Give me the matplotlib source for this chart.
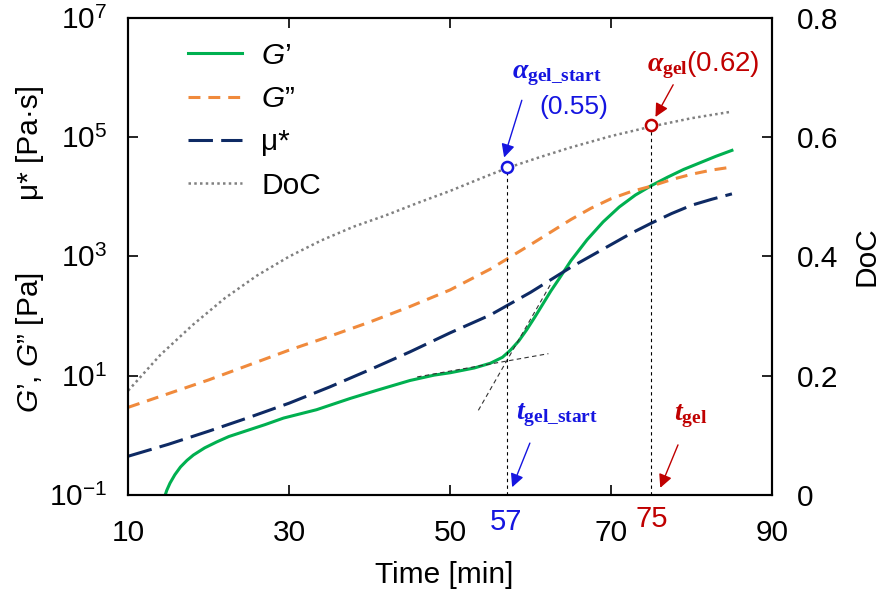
import numpy as np
import matplotlib
matplotlib.use('Agg')
import matplotlib.pyplot as plt

plt.rcParams['font.family'] = ['Liberation Sans', 'DejaVu Sans']
plt.rcParams['mathtext.fontset'] = 'custom'
plt.rcParams['mathtext.rm'] = 'Liberation Sans'
plt.rcParams['mathtext.sf'] = 'Liberation Sans:italic'
plt.rcParams['mathtext.it'] = 'Liberation Serif:italic:bold'
plt.rcParams['mathtext.bf'] = 'Liberation Serif:bold'

# rheology curves, log10 of modulus / viscosity
time_mod = [10, 15, 20, 25, 30, 35, 40, 45, 50, 55, 60, 65, 67.5, 70, 72.5, 75, 77.5, 80,
            82.5, 85]
g2_log = [0.47, 0.70, 0.93, 1.18, 1.43, 1.66, 1.90, 2.16, 2.44, 2.79, 3.20, 3.62, 3.81, 3.97,
          4.09, 4.18, 4.29, 4.38, 4.45, 4.50]
mu_log = [-0.35, -0.15, 0.07, 0.30, 0.54, 0.81, 1.10, 1.40, 1.72, 2.02, 2.40, 2.82, 3.01, 3.20,
          3.39, 3.56, 3.72, 3.86, 3.96, 4.05]

time_g1 = [14.6, 14.8, 15.2, 15.8, 16.5, 17.3, 18.1, 19.5, 21, 22.5, 24.3, 27, 29.3, 33.4,
           37.6, 41, 45, 48, 50, 53, 55, 56.5, 57.5, 58.5, 59.5, 60.5, 61.5, 62.5, 63.5, 65,
           67, 69, 71, 73, 75, 77, 79, 81, 83, 85]
g1_log = [-1.0, -0.92, -0.80, -0.66, -0.53, -0.42, -0.33, -0.21, -0.11, -0.02, 0.06, 0.18,
          0.29, 0.43, 0.62, 0.76, 0.92, 1.01, 1.05, 1.13, 1.21, 1.31, 1.43, 1.58, 1.77, 1.98,
          2.20, 2.42, 2.62, 2.93, 3.28, 3.58, 3.83, 4.03, 4.19, 4.33, 4.46, 4.57, 4.68, 4.78]

# degree of cure
time_doc = [10, 14, 18, 22, 26, 30, 34, 38, 42, 46, 50, 54, 57, 61, 65, 70, 75, 80, 85]
doc = [0.175, 0.235, 0.285, 0.33, 0.368, 0.40, 0.427, 0.45, 0.469, 0.49, 0.51, 0.532, 0.548,
       0.566, 0.583, 0.602, 0.618, 0.632, 0.643]

# gel points
t_gel_start, doc_gel_start = 57, 0.55
t_gel, doc_gel = 75, 0.62

# tangents used to find the onset
tan_flat_t = [45.9, 62.2]
tan_flat_log = [0.98, 1.37]
tan_steep_t = [53.5, 62.5]
tan_steep_log = [0.42, 2.54]

GREEN = '#00B050'
ORANGE = '#F08A3C'
NAVY = '#0E2A64'
GRAY = '#808080'
BLUE = '#1515E0'
RED = '#C00000'
FS = 21.5

fig = plt.figure(figsize=(8.84, 5.96), dpi=100)
ax = fig.add_axes([0.145, 0.1695, 0.7285, 0.8003])
ax2 = ax.twinx()

l1, = ax.semilogy(time_g1, 10 ** np.array(g1_log), color=GREEN, lw=2.2)
l2, = ax.semilogy(time_mod, 10 ** np.array(g2_log), color=ORANGE, lw=2.2, dashes=(3.9, 2.6))
l3, = ax.semilogy(time_mod, 10 ** np.array(mu_log), color=NAVY, lw=2.2, dashes=(8, 2.7))
ax.semilogy(tan_flat_t, 10 ** np.array(tan_flat_log), color='#333333', lw=0.8, dashes=(4, 3))
ax.semilogy(tan_steep_t, 10 ** np.array(tan_steep_log), color='#333333', lw=0.8, dashes=(4, 3))

l4, = ax2.plot(time_doc, doc, color=GRAY, lw=1.8, dashes=(1, 1.3))
ax2.plot([t_gel_start, t_gel_start], [0, doc_gel_start], color='black', lw=0.8, dashes=(3, 3))
ax2.plot([t_gel, t_gel], [0, doc_gel], color='black', lw=0.8, dashes=(3, 3))
ax2.plot(t_gel_start, doc_gel_start, 'o', ms=8, mfc='white', mec=BLUE, mew=1.8)
ax2.plot(t_gel, doc_gel, 'o', ms=8, mfc='white', mec=RED, mew=1.8)

ax.set_xlim(10, 90)
ax.set_ylim(1e-1, 1e7)
ax2.set_ylim(0, 0.8)

ax.set_xticks([10, 30, 50, 70, 90])
ax.set_xticklabels(['10', '30', '50', '70', '90'])
ax.set_yticks([1e-1, 1e1, 1e3, 1e5, 1e7])
ax.set_yticklabels([r'$10^{-1}$', r'$10^{1}$', r'$10^{3}$', r'$10^{5}$', r'$10^{7}$'])
ax.yaxis.set_minor_locator(matplotlib.ticker.NullLocator())
ax2.set_yticks([0, 0.2, 0.4, 0.6, 0.8])
ax2.set_yticklabels(['0', '0.2', '0.4', '0.6', '0.8'])

ax.tick_params(axis='x', direction='in', top=True, length=7, width=1.2, labelsize=FS, pad=17)
ax.tick_params(axis='y', direction='in', length=7, width=1.2, labelsize=FS, pad=15)
ax2.tick_params(axis='y', direction='in', length=7, width=1.2, labelsize=FS, pad=18)
for a in (ax, ax2):
    for s in a.spines.values():
        s.set_linewidth(1.5)

ax.set_xlabel('Time [min]', fontsize=FS)
ax.xaxis.set_label_coords(0.49, -0.138)
ax2.text(1.146, 0.5, 'DoC', transform=ax.transAxes, rotation=90,
         ha='center', va='center', fontsize=FS)
ax.text(-0.152, 0.32, r'$\mathsf{G}$’, $\mathsf{G}$” [Pa]', transform=ax.transAxes, rotation=90,
        ha='center', va='center', fontsize=FS)
ax.text(-0.152, 0.74, 'μ* [Pa·s]', transform=ax.transAxes, rotation=90,
        ha='center', va='center', fontsize=FS)

ax.legend([l1, l2, l3, l4], [r'$\mathsf{G}$’', r'$\mathsf{G}$”', 'μ*', 'DoC'],
          loc='upper left', bbox_to_anchor=(0.093, 0.95), frameon=False, fontsize=FS,
          borderpad=0, borderaxespad=0, handlelength=1.8, handletextpad=0.65, labelspacing=0.51)

# gel point annotations
arr = dict(arrowstyle='-|>', lw=1.0, mutation_scale=20, shrinkA=0, shrinkB=0)
ax2.text(63.3, 0.704, r'$\mathit{α}_{\mathbf{gel\_start}}$', color=BLUE, fontsize=20,
         ha='center', va='center')
ax2.text(65.3, 0.651, '(0.55)', color=BLUE, fontsize=19, ha='center', va='center')
ax2.annotate('', xy=(56.7, 0.566), xytext=(58.9, 0.662), arrowprops=dict(arr, color=BLUE))
ax2.text(81.4, 0.721, r'$\mathit{α}_{\mathbf{gel}}\mathrm{(0.62)}$', color=RED, fontsize=20,
         ha='center', va='center')
ax2.annotate('', xy=(75.5, 0.634), xytext=(77.7, 0.688), arrowprops=dict(arr, color=RED))

ax2.text(63.3, 0.134, r'$\mathit{t}_{\mathbf{gel\_start}}$', color=BLUE, fontsize=20,
         ha='center', va='center')
ax2.annotate('', xy=(57.7, 0.013), xytext=(59.9, 0.087), arrowprops=dict(arr, color=BLUE))
ax2.text(79.9, 0.132, r'$\mathit{t}_{\mathbf{gel}}$', color=RED, fontsize=20,
         ha='center', va='center')
ax2.annotate('', xy=(76.1, 0.012), xytext=(78.3, 0.084), arrowprops=dict(arr, color=RED))

ax2.text(t_gel_start, -0.045, str(t_gel_start), color=BLUE, fontsize=21, ha='center',
         va='center', clip_on=False)
ax2.text(t_gel, -0.041, str(t_gel), color=RED, fontsize=21, ha='center',
         va='center', clip_on=False)

fig.savefig('out.png', dpi=100)
